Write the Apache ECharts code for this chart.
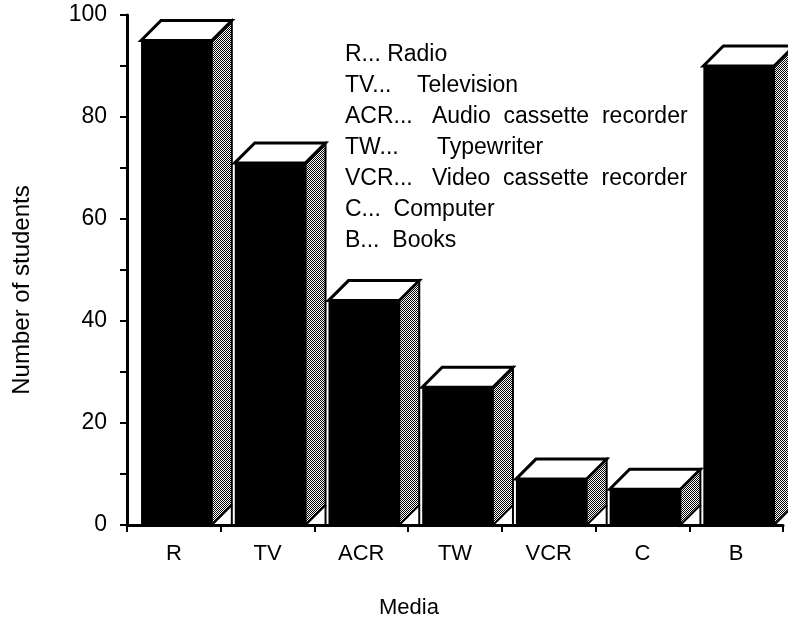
<!DOCTYPE html>
<html lang="en">
<head>
    <meta charset="UTF-8">
    <title>Media use</title>
    <script type="text/javascript" src="https://cdn.jsdelivr.net/npm/echarts@6/dist/echarts.min.js"></script>
    <style>
        html, body { margin: 0; padding: 0; background: #fff; }
        #chart { width: 788px; height: 626px; }
    </style>
</head>
<body>
<div id="chart"></div>
<script>
    // data
    var categories = ['R', 'TV', 'ACR', 'TW', 'VCR', 'C', 'B'];
    var students = [95, 71, 44, 27, 9, 7, 90];
    var yTicks = [0, 20, 40, 60, 80, 100];
    var keyLines = [
        'R... Radio',
        'TV...    Television',
        'ACR...   Audio  cassette  recorder',
        'TW...      Typewriter',
        'VCR...   Video  cassette  recorder',
        'C...  Computer',
        'B...  Books'
    ];

    var FONT = '"Liberation Sans", Arial, Helvetica, sans-serif';

    // dotted fill for the side of each box
    var dots = document.createElement('canvas');
    dots.width = 4;
    dots.height = 4;
    var dctx = dots.getContext('2d');
    dctx.fillStyle = '#fff';
    dctx.fillRect(0, 0, 4, 4);
    dctx.fillStyle = '#000';
    for (var yy = 0; yy < 4; yy++) {
        for (var xx = 0; xx < 4; xx++) {
            if ((xx + yy) % 2 === 0) dctx.fillRect(xx, yy, 1, 1);
        }
    }
    var sidePattern = { image: dots, repeat: 'repeat' };

    function renderBox(params, api) {
        var top = api.coord([api.value(0), api.value(1)]);
        var base = api.coord([api.value(0), 0]);
        var bw = api.size([1, 0])[0];
        var dx = 20, dy = 20;
        var fw = bw * 0.755;
        var x0 = top[0] - bw / 2 + bw * 0.15;
        var yt = top[1], yb = base[1];
        return {
            type: 'group',
            children: [
                {
                    type: 'polygon',
                    shape: { points: [[x0 + fw, yt], [x0 + fw + dx, yt - dy], [x0 + fw + dx, yb - dy], [x0 + fw, yb]] },
                    style: { fill: sidePattern, stroke: '#000', lineWidth: 2 }
                },
                {
                    type: 'line',
                    shape: { x1: x0 + fw + dx, y1: yb - dy, x2: x0 + fw + dx, y2: yb },
                    style: { stroke: '#000', lineWidth: 2 }
                },
                {
                    type: 'rect',
                    shape: { x: x0, y: yt, width: fw, height: yb - yt },
                    style: { fill: '#000' }
                },
                {
                    type: 'polygon',
                    shape: { points: [[x0, yt], [x0 + dx, yt - dy], [x0 + fw + dx, yt - dy], [x0 + fw, yt]] },
                    style: { fill: '#fff', stroke: '#000', lineWidth: 3, lineJoin: 'miter' }
                }
            ]
        };
    }

    var myChart = echarts.init(document.getElementById('chart'));
    var option = {
        backgroundColor: '#fff',
        animation: false,
        textStyle: { fontFamily: FONT, color: '#000' },
        title: {
            text: keyLines.join('\n'),
            left: 345,
            top: 39,
            padding: 0,
            textStyle: {
                fontFamily: FONT,
                fontWeight: 'normal',
                fontSize: 23,
                lineHeight: 31,
                color: '#000'
            }
        },
        grid: {
            left: 127,
            right: 5,
            top: 15,
            bottom: 101
        },
        xAxis: {
            type: 'category',
            data: categories,
            boundaryGap: true,
            name: 'Media',
            nameLocation: 'middle',
            nameGap: 72,
            nameTextStyle: { fontFamily: FONT, fontSize: 22, color: '#000', padding: [0, 92, 0, 0] },
            axisLine: { lineStyle: { color: '#000', width: 3 } },
            axisTick: { show: true, length: 7, lineStyle: { color: '#000', width: 2 } },
            axisLabel: { margin: 18, fontFamily: FONT, fontSize: 22, color: '#000' },
            splitLine: { show: false }
        },
        yAxis: {
            type: 'value',
            min: yTicks[0],
            max: yTicks[yTicks.length - 1],
            interval: yTicks[1] - yTicks[0],
            name: 'Number of students',
            nameLocation: 'middle',
            nameGap: 93,
            nameTextStyle: { fontFamily: FONT, fontSize: 24, color: '#000', padding: [0, 40, 0, 0] },
            axisLine: { show: true, lineStyle: { color: '#000', width: 3 } },
            axisTick: { show: true, length: 7, lineStyle: { color: '#000', width: 2 } },
            minorTick: { show: true, splitNumber: 2, length: 7, lineStyle: { color: '#000', width: 2 } },
            axisLabel: { margin: 20, fontFamily: FONT, fontSize: 23, color: '#000' },
            splitLine: { show: false },
            minorSplitLine: { show: false }
        },
        series: [{
            type: 'custom',
            renderItem: renderBox,
            encode: { x: 0, y: 1 },
            data: categories.map(function (c, i) { return [i, students[i]]; }),
            z: 1
        }]
    };
    myChart.setOption(option);
    window.onresize = function () {
        myChart.resize();
    };
</script>
</body>
</html>
